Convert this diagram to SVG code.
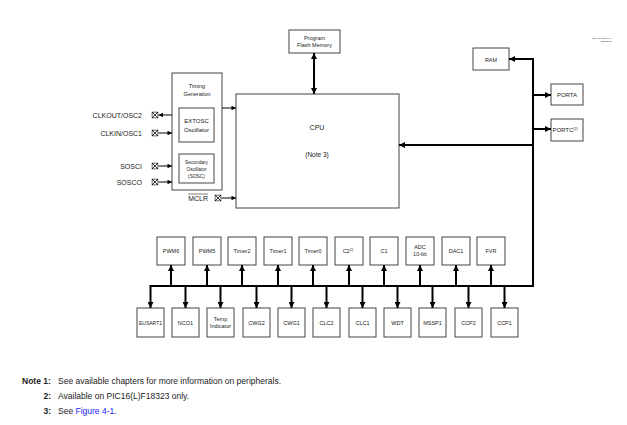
<svg xmlns="http://www.w3.org/2000/svg" width="627" height="425" viewBox="0 0 627 425">
<defs>
<marker id="ah" viewBox="0 0 10 10" refX="10" refY="5" markerWidth="5" markerHeight="4.5" orient="auto-start-reverse" markerUnits="userSpaceOnUse"><path d="M0,0 L10,5 L0,10 z" fill="#000"/></marker>
<marker id="ahb" viewBox="0 0 10 10" refX="10" refY="5" markerWidth="6.5" markerHeight="6" orient="auto-start-reverse" markerUnits="userSpaceOnUse"><path d="M0,0 L10,5 L0,10 z" fill="#000"/></marker>
<symbol id="pin" viewBox="0 0 7 7"><rect x="0.5" y="0.5" width="6" height="6" fill="#fff" stroke="#000" stroke-width="0.8"/><path d="M0.5,0.5 L6.5,6.5 M6.5,0.5 L0.5,6.5" stroke="#000" stroke-width="0.8"/></symbol>
</defs>
<style>
text{font-family:"Liberation Sans",Arial,sans-serif;fill:#222}
.box{fill:#fff;stroke:#444;stroke-width:1}
.t{font-size:5.5px;text-anchor:middle}
.lbl{font-size:7px;text-anchor:end}
.thin{stroke:#000;stroke-width:1;fill:none;marker-end:url(#ah)}
.bus{stroke:#000;stroke-width:2;fill:none}
.busa{stroke:#000;stroke-width:2;fill:none;marker-end:url(#ahb)}
.note{font-size:8.5px}
</style>
<rect width="627" height="425" fill="#fff"/>
<text x="612" y="39" style="font-size:2.5px;text-anchor:end">Rev. 10-000XXXA</text>
<text x="612" y="42" style="font-size:2.5px;text-anchor:end">5/20/2017</text>

<g id="flash"><rect class="box" x="289" y="30" width="51" height="23"/><text class="t" x="314.5" y="40">Program</text><text class="t" x="314.5" y="47">Flash Memory</text></g>
<g id="cpu"><rect class="box" x="236" y="94" width="163" height="114"/><text x="317" y="130" style="font-size:7px;text-anchor:middle">CPU</text><text x="317" y="157" style="font-size:6.5px;text-anchor:middle">(Note 3)</text></g>
<g id="timing"><rect class="box" x="172" y="73" width="50" height="117"/><text class="t" x="197" y="88">Timing</text><text class="t" x="197" y="96">Generation</text></g>
<g id="extosc"><rect class="box" x="179" y="108" width="35" height="34"/><text x="196.5" y="123" style="font-size:6px;text-anchor:middle">EXTOSC</text><text x="196.5" y="132" style="font-size:6px;text-anchor:middle">Oscillator</text></g>
<g id="sosc"><rect class="box" x="179" y="154" width="35" height="29"/><text x="196.5" y="164" style="font-size:4.8px;text-anchor:middle">Secondary</text><text x="196.5" y="171" style="font-size:4.8px;text-anchor:middle">Oscillator</text><text x="196.5" y="178" style="font-size:4.8px;text-anchor:middle">(SOSC)</text></g>

<g id="pin-clkout"><use href="#pin" x="151.5" y="111.5" width="7" height="7"/><text class="lbl" x="142" y="117.5">CLKOUT/OSC2</text></g>
<g id="pin-clkin"><use href="#pin" x="151.5" y="129.5" width="7" height="7"/><text class="lbl" x="142" y="135.5">CLKIN/OSC1</text></g>
<g id="pin-sosci"><use href="#pin" x="151.5" y="162.5" width="7" height="7"/><text class="lbl" x="142" y="168.5">SOSCI</text></g>
<g id="pin-sosco"><use href="#pin" x="151.5" y="178.5" width="7" height="7"/><text class="lbl" x="142" y="184.5">SOSCO</text></g>
<g id="pin-mclr"><use href="#pin" x="214.5" y="194.5" width="7" height="7"/><text class="lbl" x="208" y="201">MCLR</text><line x1="188" y1="194" x2="208" y2="194" stroke="#222" stroke-width="0.6"/></g>

<g id="ram"><rect class="box" x="473" y="48" width="36" height="22"/><text class="t" x="491" y="61.5">RAM</text></g>
<g id="porta"><rect class="box" x="551" y="84" width="32" height="21"/><text x="567" y="97" style="font-size:6px;text-anchor:middle">PORTA</text></g>
<g id="portc"><rect class="box" x="551" y="119" width="32" height="22"/><text x="565" y="132" style="font-size:6px;text-anchor:middle">PORTC<tspan dy="-2.5" style="font-size:3.5px">(2)</tspan></text></g>

<g id="pwm6"><rect class="box" x="157" y="237" width="28" height="28"/><text class="t" x="171" y="253">PWM6</text></g>
<g id="pwm5"><rect class="box" x="193" y="237" width="28" height="28"/><text class="t" x="207" y="253">PWM5</text></g>
<g id="timer2"><rect class="box" x="228" y="237" width="28" height="28"/><text class="t" x="242" y="253">Timer2</text></g>
<g id="timer1"><rect class="box" x="264" y="237" width="28" height="28"/><text class="t" x="278" y="253">Timer1</text></g>
<g id="timer0"><rect class="box" x="299" y="237" width="28" height="28"/><text class="t" x="313" y="253">Timer0</text></g>
<g id="c2"><rect class="box" x="335" y="237" width="28" height="28"/><text class="t" x="348" y="253">C2<tspan dy="-2" style="font-size:3px">(2)</tspan></text></g>
<g id="c1"><rect class="box" x="370" y="237" width="28" height="28"/><text class="t" x="384" y="253">C1</text></g>
<g id="adc"><rect class="box" x="406" y="237" width="28" height="28"/><text class="t" x="420" y="249">ADC</text><text class="t" x="420" y="256">10-bit</text></g>
<g id="dac1"><rect class="box" x="442" y="237" width="28" height="28"/><text class="t" x="456" y="253">DAC1</text></g>
<g id="fvr"><rect class="box" x="477" y="237" width="28" height="28"/><text class="t" x="491" y="253">FVR</text></g>

<g id="eusart1"><rect class="box" x="137" y="308" width="27" height="29"/><text x="150.5" y="324.5" style="font-size:5px;text-anchor:middle">EUSART1</text></g>
<g id="nco1"><rect class="box" x="172" y="308" width="27" height="29"/><text class="t" x="185.5" y="324.5">NCO1</text></g>
<g id="temp"><rect class="box" x="207" y="308" width="27" height="29"/><text class="t" x="220.5" y="320.5">Temp</text><text class="t" x="220.5" y="328">Indicator</text></g>
<g id="cwg2"><rect class="box" x="243" y="308" width="27" height="29"/><text class="t" x="256.5" y="324.5">CWG2</text></g>
<g id="cwg1"><rect class="box" x="278" y="308" width="27" height="29"/><text class="t" x="291.5" y="324.5">CWG1</text></g>
<g id="clc2"><rect class="box" x="313" y="308" width="27" height="29"/><text class="t" x="326.5" y="324.5">CLC2</text></g>
<g id="clc1"><rect class="box" x="349" y="308" width="27" height="29"/><text class="t" x="362.5" y="324.5">CLC1</text></g>
<g id="wdt"><rect class="box" x="384" y="308" width="27" height="29"/><text class="t" x="397.5" y="324.5">WDT</text></g>
<g id="mssp1"><rect class="box" x="419" y="308" width="27" height="29"/><text class="t" x="432.5" y="324.5">MSSP1</text></g>
<g id="ccp2"><rect class="box" x="455" y="308" width="27" height="29"/><text class="t" x="468.5" y="324.5">CCP2</text></g>
<g id="ccp1"><rect class="box" x="491" y="308" width="27" height="29"/><text class="t" x="504.5" y="324.5">CCP1</text></g>

<g id="connectors">
<path d="M314,53 L314,94" class="busa" style="marker-start:url(#ahb)"/>
<line class="thin" x1="222" y1="108" x2="236" y2="108"/>
<line class="thin" x1="172" y1="115" x2="158.5" y2="115"/>
<line class="thin" x1="158.5" y1="133" x2="172" y2="133"/>
<line class="thin" x1="158.5" y1="166" x2="172" y2="166"/>
<line class="thin" x1="158.5" y1="182" x2="172" y2="182"/>
<line class="thin" x1="221.5" y1="198" x2="236" y2="198"/>
<path class="bus" d="M533,59 L533,286 L150,286"/>
<line class="busa" x1="534" y1="59" x2="509" y2="59"/>
<line class="busa" x1="533" y1="95" x2="551" y2="95"/>
<line class="busa" x1="533" y1="129" x2="551" y2="129"/>
<line class="busa" x1="533" y1="145" x2="399" y2="145"/>
<line class="busa" x1="171" y1="286" x2="171" y2="265"/>
<line class="busa" x1="207" y1="286" x2="207" y2="265"/>
<line class="busa" x1="242" y1="286" x2="242" y2="265"/>
<line class="busa" x1="278" y1="286" x2="278" y2="265"/>
<line class="busa" x1="313" y1="286" x2="313" y2="265"/>
<line class="busa" x1="349" y1="286" x2="349" y2="265"/>
<line class="busa" x1="384" y1="286" x2="384" y2="265"/>
<line class="busa" x1="420" y1="286" x2="420" y2="265"/>
<line class="busa" x1="456" y1="286" x2="456" y2="265"/>
<line class="busa" x1="491" y1="286" x2="491" y2="265"/>
<line class="busa" x1="150.5" y1="285" x2="150.5" y2="308"/>
<line class="busa" x1="185.5" y1="286" x2="185.5" y2="308"/>
<line class="busa" x1="220.5" y1="286" x2="220.5" y2="308"/>
<line class="busa" x1="256.5" y1="286" x2="256.5" y2="308"/>
<line class="busa" x1="291.5" y1="286" x2="291.5" y2="308"/>
<line class="busa" x1="326.5" y1="286" x2="326.5" y2="308"/>
<line class="busa" x1="362.5" y1="286" x2="362.5" y2="308"/>
<line class="busa" x1="397.5" y1="286" x2="397.5" y2="308"/>
<line class="busa" x1="432.5" y1="286" x2="432.5" y2="308"/>
<line class="busa" x1="468.5" y1="286" x2="468.5" y2="308"/>
<line class="busa" x1="504.5" y1="286" x2="504.5" y2="308"/>
</g>

<g id="notes">
<text class="note" x="22" y="384" style="font-weight:bold">Note 1:</text>
<text class="note" x="58" y="384">See available chapters for more information on peripherals.</text>
<text class="note" x="51" y="399" style="font-weight:bold;text-anchor:end">2:</text>
<text class="note" x="58" y="399">Available on PIC16(L)F18323 only.</text>
<text class="note" x="51" y="414" style="font-weight:bold;text-anchor:end">3:</text>
<text class="note" x="58" y="414">See <tspan style="fill:#1a1aff">Figure 4-1</tspan>.</text>
</g>
</svg>
